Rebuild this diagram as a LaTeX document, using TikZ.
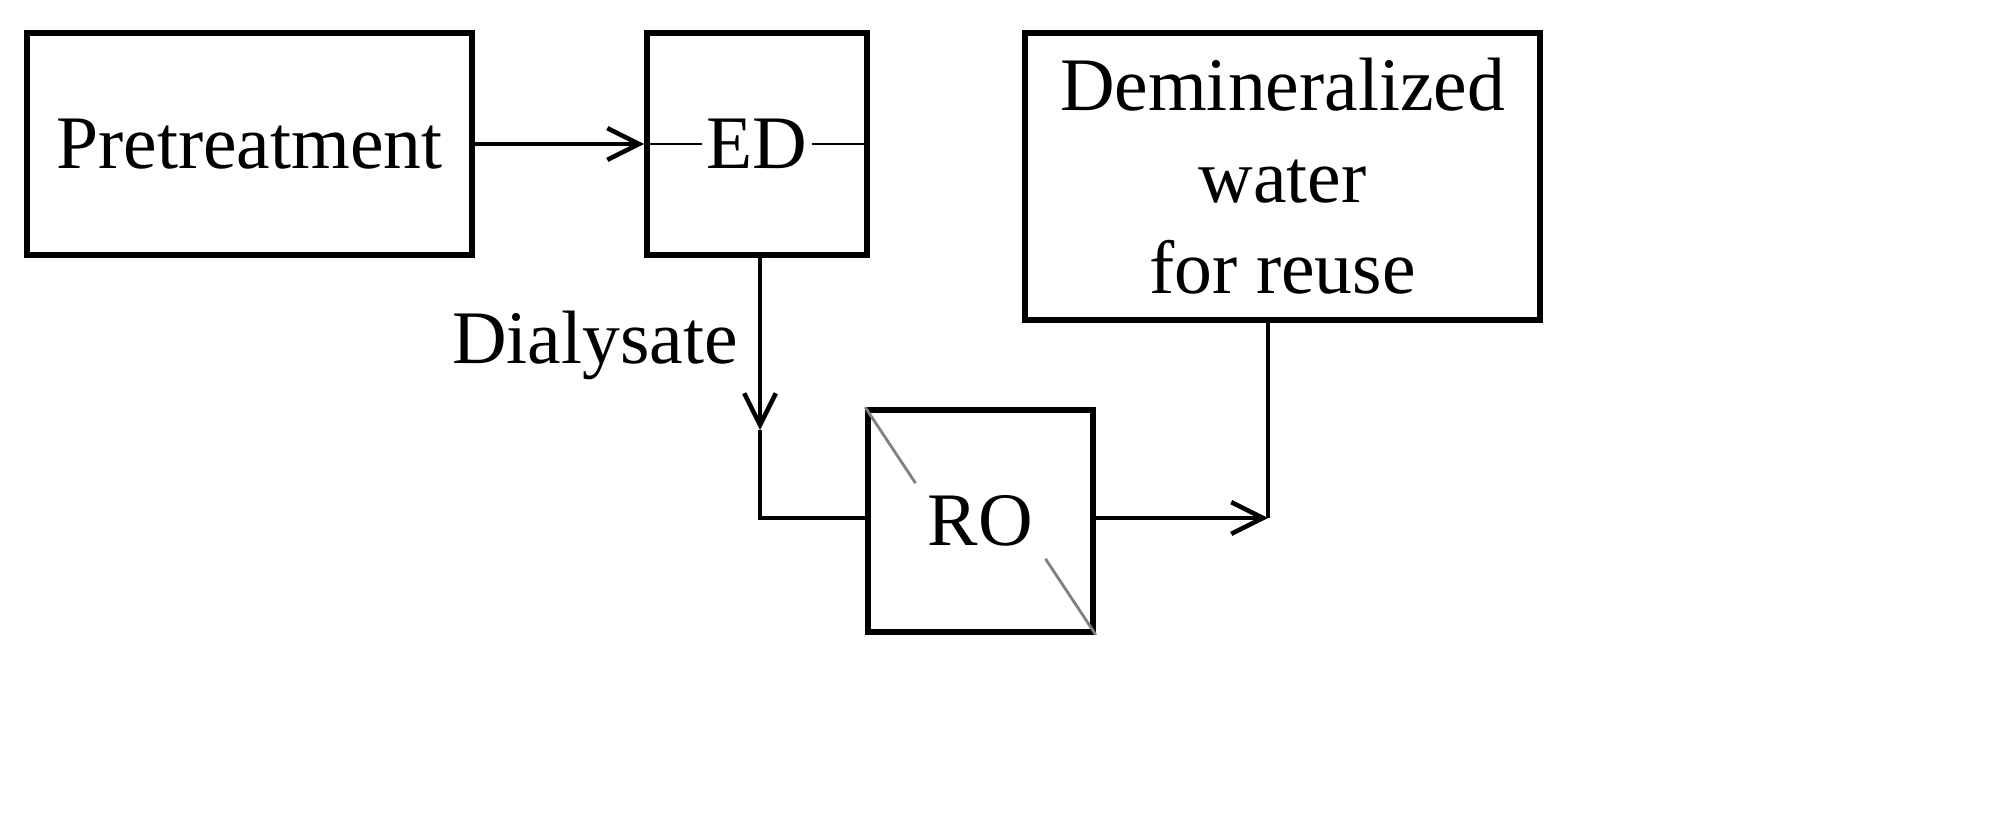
\documentclass[tikz,border=0pt]{standalone}
\usepackage{fontspec}
\setmainfont{Liberation Serif}
\usetikzlibrary{arrows.meta}
\begin{document}
\begin{tikzpicture}[x=0.01cm,y=-0.01cm,
  box/.style={draw,line width=1.6pt,inner sep=0pt,font=\fontsize{21.5}{25}\selectfont,align=center},
  flow/.style={line width=1.3pt},
  tip/.style={-{Straight Barb[length=9pt,width=9pt,line width=1.3pt]}},
  lbl/.style={font=\fontsize{21.5}{25}\selectfont}]
\useasboundingbox (0,0) rectangle (1993,837);
\node[box,minimum width=4.45cm,minimum height=2.22cm] (pre) at (249.5,144) {Pretreatment};
\node[box,minimum width=2.2cm,minimum height=2.22cm] (ed) at (757,144) {};
\node[lbl,fill=white,inner sep=1pt] (edt) at (757,144) {ED};
\node[box,minimum width=5.15cm,minimum height=2.87cm,font=\fontsize{21.5}{26}\selectfont] (dem) at (1282.5,176.5) {Demineralized\\water\\for reuse};
\node[box,minimum width=2.25cm,minimum height=2.22cm] (ro) at (980.5,521) {};
\node[lbl] (rot) at (980.5,521) {RO};
\draw[gray,line width=0.8pt] (ro.north west) -- (rot.north west);
\draw[gray,line width=0.8pt] (rot.south east) -- (ro.south east);
\draw[line width=0.8pt] (ed.west) -- (edt.west);
\draw[line width=0.8pt] (edt.east) -- (ed.east);
\draw[flow,tip] (pre.east) -- (ed.west);
\coordinate (c1) at (760,430);
\coordinate (c2) at (760,518);
\coordinate (c3) at (1268,518);
\draw[flow,tip] (ed.south -| c1) -- (c1);
\draw[flow] (c1) -- (c2) -- (ro.west |- c2);
\draw[flow,tip] (ro.east |- c3) -- (c3);
\draw[flow] (c3) -- (c3 |- dem.south);
\node[lbl,anchor=east] (dl) at (750,345) {Dialysate};
\end{tikzpicture}
\end{document}
